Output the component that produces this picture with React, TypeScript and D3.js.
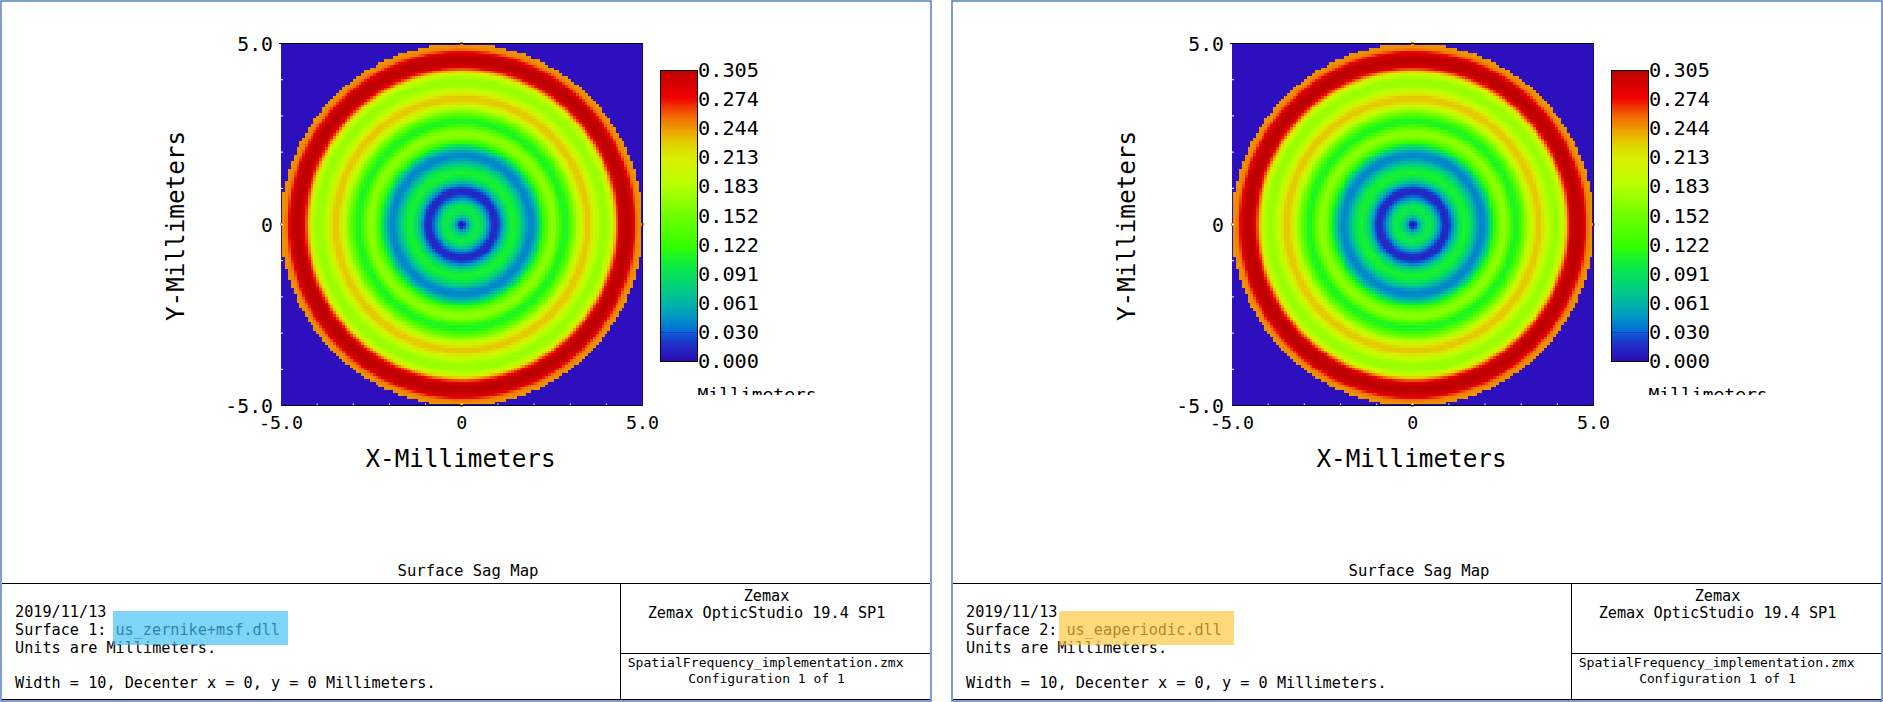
import React, { useEffect, useRef } from "react";
import * as d3 from "d3";

// Radial sag profile (mm -> mm of sag)
const profileRadius = [0, 0.06, 0.14, 0.26, 0.36, 0.46, 0.58, 0.72, 0.84, 0.92, 1.0, 1.12, 1.26, 1.4, 1.54, 1.7, 1.82, 1.92, 2.02, 2.14, 2.28, 2.42, 2.55, 2.68, 2.8, 2.92, 3.06, 3.2, 3.34, 3.42, 3.54, 3.62, 3.74, 3.88, 4.0, 4.1, 4.2, 4.3, 4.4, 4.48, 4.64, 4.74, 4.8, 4.86, 5.0];
const profileSag = [0, 0.008, 0.04, 0.078, 0.096, 0.1, 0.085, 0.045, 0.018, 0.012, 0.018, 0.05, 0.088, 0.108, 0.1, 0.07, 0.045, 0.04, 0.048, 0.08, 0.125, 0.158, 0.168, 0.14, 0.108, 0.112, 0.145, 0.18, 0.213, 0.229, 0.229, 0.213, 0.187, 0.172, 0.172, 0.185, 0.215, 0.262, 0.298, 0.305, 0.305, 0.29, 0.268, 0.25, 0.245];

// False-colour ramp
const rampValues = [0, 0.002, 0.019, 0.033, 0.05, 0.0715, 0.099, 0.12, 0.152, 0.186, 0.211, 0.225, 0.239, 0.256, 0.277, 0.305];
const rampColors = ["#2d0fbe", "#2d0fb9", "#1e32c8", "#006ed7", "#00a0be", "#00c88c", "#0aeb46", "#32ff00", "#6eff00", "#b9ff00", "#d7f000", "#e1d700", "#ebaa00", "#f06e00", "#f00000", "#be0000"];
const outsideColor = "#2d0fbe";

const legendLabels = ["0.000", "0.030", "0.061", "0.091", "0.122", "0.152", "0.183", "0.213", "0.244", "0.274", "0.305"];
const axisTicks = [-5, 0, 5];
const axisTickLabels = ["-5.0", "0", "5.0"];
const minorTicks = [-4, -3, -2, -1, 0, 1, 2, 3, 4];

const panels = [
  { offset: 0, surface: "Surface 1:", dll: "us_zernike+msf.dll", highlight: "#43c1f3" },
  { offset: 951, surface: "Surface 2:", dll: "us_eaperiodic.dll", highlight: "#ffc73b" },
];

const gridHalf = 64;
const mono = "'DejaVu Sans Mono', monospace";

const xScale = d3.scaleLinear().domain([-5, 5]).range([281, 642.5]);
const yScale = d3.scaleLinear().domain([-5, 5]).range([405.5, 43.5]);
const sagAt = d3.scaleLinear<number>().domain(profileRadius).range(profileSag).clamp(true);
const colorOf = d3.scaleLinear<string>().domain(rampValues).range(rampColors).clamp(true);
const legendY = d3.scaleLinear().domain([0, 0.305]).range([361.5, 70]);
const legendLabelY = d3.scaleLinear().domain([0, 10]).range([361, 70]);

function T(p: any) {
  const { children, size, ...rest } = p;
  return (
    <text fontFamily={mono} fontSize={size} fill="#000" lengthAdjust="spacingAndGlyphs" {...rest}>
      {children}
    </text>
  );
}

function SagMap() {
  const ref = useRef<SVGGElement>(null);
  useEffect(() => {
    const g = d3.select(ref.current);
    const idx = d3.range(-gridHalf, gridHalf + 1);
    const cells: { x: number; y: number; c: string }[] = [];
    idx.forEach((i) =>
      idx.forEach((j) => {
        const px = (i * 5) / gridHalf;
        const py = (j * 5) / gridHalf;
        const r = Math.hypot(px, py);
        if (r <= 5) cells.push({ x: px, y: py, c: colorOf(sagAt(r)) });
      })
    );
    const w = xScale(5 / gridHalf) - xScale(0);
    const h = yScale(0) - yScale(5 / gridHalf);
    g.selectAll("rect")
      .data(cells)
      .join("rect")
      .attr("x", (d) => xScale(d.x) - w / 2)
      .attr("y", (d) => yScale(d.y) - h / 2)
      .attr("width", w + 0.3)
      .attr("height", h + 0.3)
      .attr("fill", (d) => d.c);
  }, []);
  return <g ref={ref} shapeRendering="crispEdges" />;
}

function Panel({ p, idx }: { p: (typeof panels)[number]; idx: number }) {
  const clipId = `legend-clip-${idx}`;
  const rampRows = d3.range(0, 0.305, 0.305 / 292);
  return (
    <g transform={`translate(${p.offset},0)`}>
      <rect x={1} y={1} width={930} height={700} fill="#fff" stroke="#4a74c0" strokeWidth={1.4} />
      {/* plot */}
      <rect x={xScale(-5)} y={yScale(5)} width={xScale(5) - xScale(-5)} height={yScale(-5) - yScale(5)} fill={outsideColor} />
      <SagMap />
      {minorTicks.map((t) => (
        <g key={t} stroke="#fff" strokeWidth={1}>
          <line x1={xScale(t)} x2={xScale(t)} y1={yScale(-5)} y2={yScale(-5) - 2} />
          <line x1={xScale(-5)} x2={xScale(-5) + 2} y1={yScale(t)} y2={yScale(t)} />
        </g>
      ))}
      <g shapeRendering="crispEdges">
        <line x1={279} x2={643} y1={yScale(5)} y2={yScale(5)} stroke="#000" strokeWidth={1.5} />
        <line x1={281} x2={643} y1={yScale(-5)} y2={yScale(-5)} stroke="#000" strokeWidth={1} />
        <line x1={xScale(5)} x2={xScale(5)} y1={yScale(5)} y2={yScale(-5)} stroke="#14147a" strokeWidth={1} />
      </g>
      {/* axis labels */}
      {axisTicks.map((t, i) => (
        <T key={"y" + t} x={273} y={yScale(t) + 7.2} size={19.8} textAnchor="end">
          {axisTickLabels[i]}
        </T>
      ))}
      {axisTicks.map((t, i) => (
        <T key={"x" + t} x={xScale(t)} y={429} size={18.3} textAnchor="middle">
          {axisTickLabels[i]}
        </T>
      ))}
      <T x={460.5} y={467} size={24.3} textAnchor="middle">X-Millimeters</T>
      <T transform="translate(184,226) rotate(-90)" x={0} y={0} size={24.3} textAnchor="middle">Y-Millimeters</T>
      {/* colour legend */}
      <g shapeRendering="crispEdges">
        {rampRows.map((v) => (
          <rect key={v} x={660.5} width={36.5} y={legendY(v) - 1} height={1.6} fill={colorOf(v)} />
        ))}
        <line x1={660.5} x2={697} y1={legendY(0.0305)} y2={legendY(0.0305)} stroke="#2d2dd2" />
        <rect x={660.5} y={70} width={36.5} height={291.5} fill="none" stroke="#000" strokeWidth={1} />
      </g>
      {legendLabels.map((l, i) => (
        <T key={l} x={698} y={legendLabelY(i) + 7} size={19.8} textLength={61}>{l}</T>
      ))}
      <defs>
        <clipPath id={clipId}>
          <rect x={690} y={380} width={140} height={15} />
        </clipPath>
      </defs>
      <T x={697.5} y={401} size={18} clipPath={`url(#${clipId})`}>Millimeters</T>
      {/* footer */}
      <T x={468} y={576} size={15.6} textAnchor="middle">Surface Sag Map</T>
      <g stroke="#000" strokeWidth={1} shapeRendering="crispEdges">
        <line x1={2} x2={930} y1={583.5} y2={583.5} />
        <line x1={620.5} x2={620.5} y1={583.5} y2={699} />
        <line x1={620.5} x2={930} y1={653.5} y2={653.5} />
        <line x1={2} x2={930} y1={699} y2={699} />
      </g>
      <T x={15} y={616.8} size={15.2}>2019/11/13</T>
      <T x={15} y={634.8} size={15.2}>{p.surface}</T>
      <T x={15 + 9.13 * 11} y={634.8} size={15.2}>{p.dll}</T>
      <T x={15} y={652.8} size={15.2}>Units are Millimeters.</T>
      <T x={15} y={687.5} size={15.2}>Width = 10, Decenter x = 0, y = 0 Millimeters.</T>
      <rect x={idx === 0 ? 113 : 108} y={611} width={175} height={34} fill={p.highlight} fillOpacity={0.68} />
      <T x={766.5} y={600.5} size={15.2} textAnchor="middle">Zemax</T>
      <T x={766.5} y={618} size={15.2} textAnchor="middle">Zemax OpticStudio 19.4 SP1</T>
      <T x={627.7} y={667} size={13.1}>SpatialFrequency_implementation.zmx</T>
      <T x={766.5} y={683} size={13} textAnchor="middle">Configuration 1 of 1</T>
    </g>
  );
}

export default function App() {
  return (
    <svg width={1883} height={702} style={{ position: "absolute", left: 0, top: 0, background: "#fff" }}>
      {panels.map((p, i) => (
        <Panel key={p.offset} p={p} idx={i} />
      ))}
    </svg>
  );
}
